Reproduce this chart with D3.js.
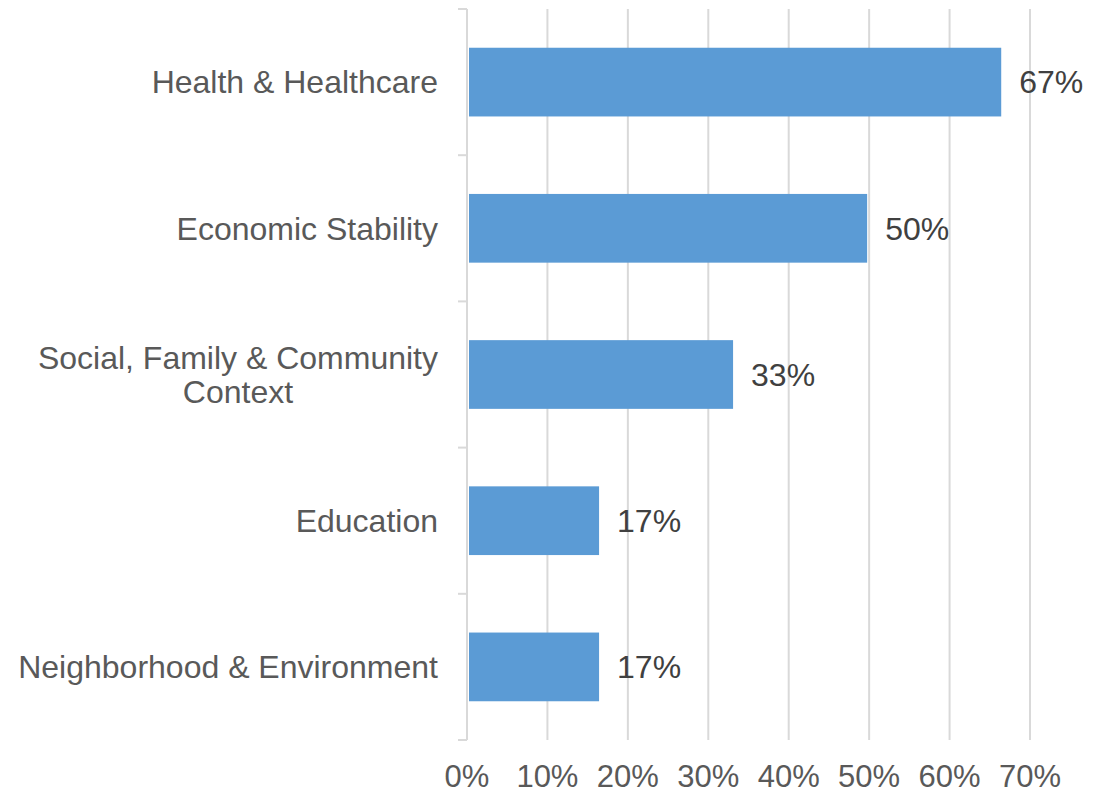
<!DOCTYPE html>
<html>
<head>
<meta charset="utf-8">
<script src="https://cdn.jsdelivr.net/npm/d3@7"></script>
<style>
  body { margin: 0; background: #fff; }
  svg { display: block; font-family: "Liberation Sans", Arial, sans-serif; }
</style>
</head>
<body>
<div id="chart"></div>
<script>
// chart data
var categories = [
    ["Health & Healthcare"],
    ["Economic Stability"],
    ["Social, Family & Community", "Context"],
    ["Education"],
    ["Neighborhood & Environment"]
];
var values = [66.67, 50, 33.33, 16.67, 16.67];
var valueLabels = ["67%", "50%", "33%", "17%", "17%"];
var tickValues = [0, 10, 20, 30, 40, 50, 60, 70];

var width = 1110, height = 794;
var margin = { top: 9, right: 80, bottom: 54, left: 467 };
var fontSize = 32;

const svg = d3.select("#chart")
    .append("svg")
    .attr("width", width)
    .attr("height", height);

const x = d3.scaleLinear()
    .domain([0, 70])
    .range([margin.left, 1030]);

const y = d3.scaleBand()
    .domain(d3.range(categories.length))
    .range([margin.top, height - margin.bottom])
    .paddingInner(0.53)
    .paddingOuter(0.265);

const plotTop = margin.top, plotBottom = height - margin.bottom;

// vertical gridlines
svg.append("g")
    .selectAll("line")
    .data(tickValues.slice(1))
    .enter().append("line")
    .attr("x1", d => x(d)).attr("x2", d => x(d))
    .attr("y1", plotTop).attr("y2", plotBottom)
    .attr("stroke", "#d9d9d9")
    .attr("stroke-width", 2);

// category axis line + tick marks between bands
const bandEdges = d3.range(categories.length + 1).map(i => plotTop + i * (plotBottom - plotTop) / categories.length);
svg.append("line")
    .attr("x1", x(0)).attr("x2", x(0))
    .attr("y1", plotTop).attr("y2", plotBottom)
    .attr("stroke", "#d9d9d9")
    .attr("stroke-width", 2);
svg.append("g")
    .selectAll("line")
    .data(bandEdges)
    .enter().append("line")
    .attr("x1", x(0) - 9).attr("x2", x(0))
    .attr("y1", d => d).attr("y2", d => d)
    .attr("stroke", "#d9d9d9")
    .attr("stroke-width", 2);

// bars (they stop just short of the value, like the original)
svg.append("g")
    .selectAll("rect")
    .data(values)
    .enter().append("rect")
    .attr("x", x(0) + 2)
    .attr("y", (d, i) => y(i))
    .attr("width", d => x(d) - x(0) - 4)
    .attr("height", y.bandwidth())
    .attr("fill", "#5b9bd5");

// value labels
svg.append("g")
    .selectAll("text")
    .data(values)
    .enter().append("text")
    .attr("x", d => x(d) + 16)
    .attr("y", (d, i) => y(i) + y.bandwidth() / 2)
    .attr("dy", "0.35em")
    .attr("font-size", fontSize)
    .attr("fill", "#404040")
    .text((d, i) => valueLabels[i]);

// category labels
const catG = svg.append("g")
    .selectAll("text")
    .data(categories)
    .enter().append("text")
    .attr("font-size", fontSize)
    .attr("fill", "#595959")
    .attr("text-anchor", "middle");

catG.each(function(lines, i) {
    const t = d3.select(this);
    const lh = 34;
    const cy = y(i) + y.bandwidth() / 2;
    // right-align the block, center lines within it
    const tmp = svg.append("text").attr("font-size", fontSize).style("visibility", "hidden");
    let maxW = 0;
    lines.forEach(l => { tmp.text(l); maxW = Math.max(maxW, tmp.node().getComputedTextLength()); });
    tmp.remove();
    const cx = 438 - maxW / 2;
    lines.forEach((l, j) => {
        t.append("tspan")
            .attr("x", cx)
            .attr("y", cy + (j - (lines.length - 1) / 2) * lh)
            .attr("dy", "0.35em")
            .text(l);
    });
});

// x axis labels
svg.append("g")
    .selectAll("text")
    .data(tickValues)
    .enter().append("text")
    .attr("x", d => x(d))
    .attr("y", 787)
    .attr("text-anchor", "middle")
    .attr("font-size", 31)
    .attr("fill", "#595959")
    .text(d => d + "%");
</script>
</body>
</html>
